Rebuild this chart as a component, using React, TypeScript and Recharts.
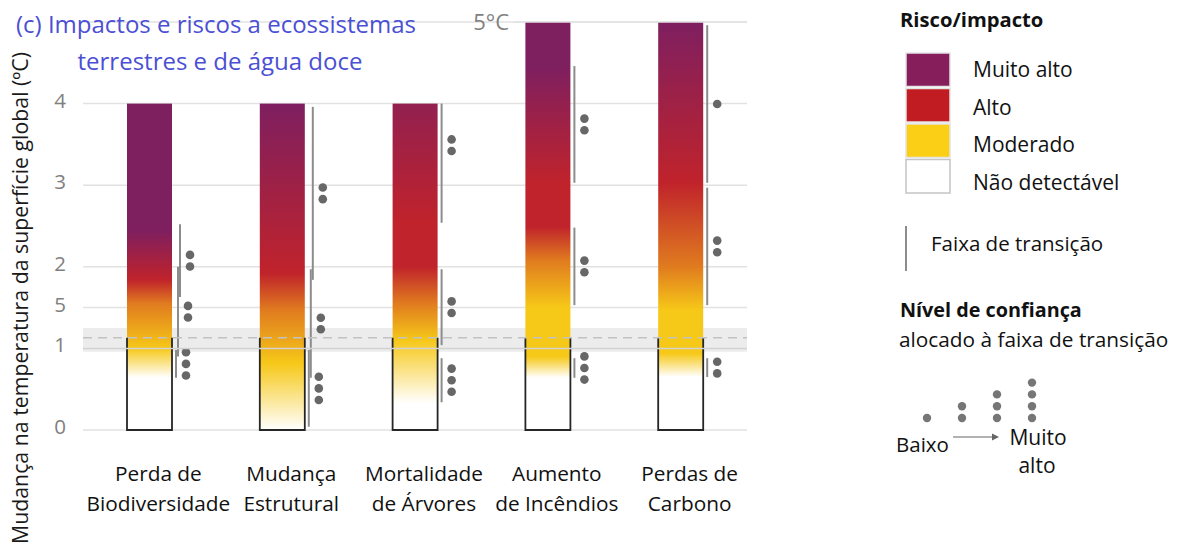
import React from 'react';
import {
  ComposedChart, Bar, XAxis, YAxis, CartesianGrid,
  ReferenceArea, ReferenceLine, Legend,
} from 'recharts';

const FONT = '"Open Sans", "Noto Sans", sans-serif';

const categories = [
  'Perda de Biodiversidade',
  'Mudança Estrutural',
  'Mortalidade de Árvores',
  'Aumento de Incêndios',
  'Perdas de Carbono',
];
const categoryLines = [
  ['Perda de', 'Biodiversidade'],
  ['Mudança', 'Estrutural'],
  ['Mortalidade', 'de Árvores'],
  ['Aumento', 'de Incêndios'],
  ['Perdas de', 'Carbono'],
];
// warming (ºC) at the top of each ember
const emberTops = [4, 4, 4, 5, 5];

// [warming ºC, risk level]  0 = não detectável, 1 = moderado, 2 = alto, 3 = muito alto
const emberBiodiversity = [[0.64, 0], [1.0, 1], [1.55, 1.5], [1.84, 2], [2.45, 3]];
const emberStructural = [[0.0, 0], [0.82, 1], [1.47, 1.5], [1.92, 2], [4.0, 3]];
const emberTreeMortality = [[0.33, 0], [1.1, 1], [1.55, 1.5], [2.0, 2], [2.54, 2], [4.0, 2.7]];
const emberFire = [[0.64, 0], [0.9, 1], [1.5, 1], [2.08, 1.5], [2.49, 2], [3.03, 2], [4.45, 3]];
const emberCarbon = [[0.65, 0], [0.94, 1], [1.47, 1], [2.0, 1.5], [3.03, 2], [5.0, 3]];
const embers = [emberBiodiversity, emberStructural, emberTreeMortality, emberFire, emberCarbon];

// transition ranges (ºC) with confidence (number of dots); at = dot centre when not the midpoint
type Transition = { from: number; to: number; confidence: number; at?: number };
const transBiodiversity: Transition[] = [
  { from: 0.64, to: 0.98, confidence: 3 },
  { from: 0.90, to: 2.00, confidence: 2 },
  { from: 1.63, to: 2.52, confidence: 2 },
];
const transStructural: Transition[] = [
  { from: 0.04, to: 0.98, confidence: 3 },
  { from: 0.64, to: 1.97, confidence: 2 },
  { from: 1.84, to: 3.96, confidence: 2 },
];
const transTreeMortality: Transition[] = [
  { from: 0.34, to: 0.88, confidence: 3 },
  { from: 1.04, to: 1.97, confidence: 2 },
  { from: 2.54, to: 4.00, confidence: 2, at: 3.49 },
];
const transFire: Transition[] = [
  { from: 0.64, to: 0.88, confidence: 3 },
  { from: 1.53, to: 2.48, confidence: 2 },
  { from: 3.03, to: 4.46, confidence: 2 },
];
const transCarbon: Transition[] = [
  { from: 0.65, to: 0.88, confidence: 2 },
  { from: 1.53, to: 2.97, confidence: 2 },
  { from: 3.03, to: 4.96, confidence: 1 },
];
const transitions = [transBiodiversity, transStructural, transTreeMortality, transFire, transCarbon];

const yTicks = [0, 1, 1.5, 2, 3, 4];
const yTickLabels = ['0', '1', '5', '2', '3', '4'];

// recent warming level and its band
const observedWarming = 1.13;
const observedLow = 0.96;
const observedHigh = 1.25;

const riskNames = ['Muito alto', 'Alto', 'Moderado', 'Não detectável'];
const riskSwatches = ['#861e5c', '#c11c21', '#fccf17', '#ffffff'];
const confidenceSteps = [1, 2, 3, 4];

const data = categories.map((name, i) => ({ name, top: emberTops[i] }));

const levelAnchors: [number, string][] = [
  [0, '#ffffff'], [1, '#f6c818'], [1.5, '#e07b1f'], [2, '#c0232b'], [3, '#7e1f60'],
];

function hexToRgb(h: string) {
  return [1, 3, 5].map((k) => parseInt(h.slice(k, k + 2), 16));
}

function levelColor(level: number) {
  for (let i = 1; i < levelAnchors.length; i++) {
    const [l0, c0] = levelAnchors[i - 1];
    const [l1, c1] = levelAnchors[i];
    if (level <= l1) {
      const f = (level - l0) / (l1 - l0);
      const a = hexToRgb(c0), b = hexToRgb(c1);
      const rgb = a.map((v, k) => Math.round(v + (b[k] - v) * f));
      return `rgb(${rgb.join(',')})`;
    }
  }
  return levelAnchors[levelAnchors.length - 1][1];
}

function Ember(props: any) {
  const { x, y, width, height, index } = props;
  const top = emberTops[index];
  const base = y + height;
  const py = (t: number) => base - (t * height) / top;
  const right = x + width;
  const id = `ember-grad-${index}`;
  const ranges = transitions[index];

  // overlapping ranges are stepped to the right
  let step = 0;
  const lines = ranges.map((r, k) => {
    if (k > 0 && r.from < ranges[k - 1].to) step += 1;
    return { ...r, lx: right + 4 + step * 2 };
  });

  return (
    <g>
      <defs>
        <linearGradient id={id} x1="0" y1="1" x2="0" y2="0">
          {embers[index].map(([t, lvl], k) => (
            <stop key={k} offset={t / top} stopColor={levelColor(lvl)} />
          ))}
        </linearGradient>
      </defs>
      <rect x={x} y={y} width={width} height={height} fill={`url(#${id})`} />
      <polyline
        points={`${x},${py(observedWarming)} ${x},${base} ${right},${base} ${right},${py(observedWarming)}`}
        fill="none" stroke="#262626" strokeWidth={1.8}
      />
      {lines.map((l, k) => {
        const mid = py(l.at ?? (l.from + l.to) / 2);
        const gap = 11.6;
        return (
          <g key={k}>
            <line x1={l.lx} x2={l.lx} y1={py(l.from)} y2={py(l.to)} stroke="#8c8c8c" strokeWidth={2} />
            {Array.from({ length: l.confidence }).map((_, d) => (
              <circle key={d} cx={l.lx + 10}
                cy={mid + (d - (l.confidence - 1) / 2) * gap} r={4.3} fill="#676767" />
            ))}
          </g>
        );
      })}
    </g>
  );
}

function TempTick(props: any) {
  const { x, y, index } = props;
  return (
    <text x={x} y={y + 4} textAnchor="end" fontSize={20.5} fill="#808080" fontFamily={FONT}>
      {yTickLabels[index]}
    </text>
  );
}

function CategoryTick(props: any) {
  const { x, y, index } = props;
  const [a, b] = categoryLines[index];
  return (
    <text x={x + 9} y={y} textAnchor="middle" fontSize={20.8} fill="#111" fontFamily={FONT}>
      <tspan x={x + 9} dy={43}>{a}</tspan>
      <tspan x={x + 9} dy={30}>{b}</tspan>
    </text>
  );
}

function TopLine(p: any) {
  const { x2, y1 } = p;
  const start = x2 - 233;
  return (
    <g>
      <line x1={start} x2={x2} y1={y1} y2={y1} stroke="#e2e2e2" strokeWidth={1.5} />
      <text x={start - 5} y={y1 + 8} textAnchor="end" fontSize={22} fill="#808080" fontFamily={FONT}>5°C</text>
    </g>
  );
}

function AxisTitle(p: any) {
  const vb = p.viewBox;
  const cx = vb.x + 28;
  const cy = 298;
  return (
    <text x={cx} y={cy} transform={`rotate(-90, ${cx}, ${cy})`} textAnchor="middle"
      fontSize={21.3} fill="#1a1a1a" fontFamily={FONT}>
      Mudança na temperatura da superfície global (ºC)
    </text>
  );
}

function RiskLegend() {
  const ox = 880;
  return (
    <svg width={304} height={549} style={{ display: 'block', fontFamily: FONT }}>
      <text x={900 - ox} y={27} fontSize={20.2} fontWeight={700} fill="#111">Risco/impacto</text>
      {riskNames.map((n, i) => (
        <g key={n}>
          <rect x={906 - ox} y={53 + i * 35.5} width={44} height={33.5} fill={riskSwatches[i]}
            stroke={i === 3 ? '#c4c4c4' : '#e4e4e4'} strokeWidth={1.5} />
          <text x={973 - ox} y={77 + i * 37.5} fontSize={21} fill="#111">{n}</text>
        </g>
      ))}
      <line x1={906 - ox} x2={906 - ox} y1={226} y2={271} stroke="#8c8c8c" strokeWidth={2} />
      <text x={931 - ox} y={251} fontSize={20.5} fill="#111">Faixa de transição</text>
      <text x={900 - ox} y={317} fontSize={19.8} fontWeight={700} fill="#111">Nível de confiança</text>
      <text x={899 - ox} y={347} fontSize={20.8} fill="#111">alocado à faixa de transição</text>
      {confidenceSteps.map((n, c) => (
        <g key={n}>
          {Array.from({ length: n }).map((_, d) => (
            <circle key={d} cx={927 - ox + c * 35} cy={418 - d * 11.8} r={4.2} fill="#767676" />
          ))}
        </g>
      ))}
      <text x={896 - ox} y={452} fontSize={20.5} fill="#111">Baixo</text>
      <line x1={953 - ox} x2={993 - ox} y1={437} y2={437} stroke="#666" strokeWidth={1.2} />
      <polygon points={`${999 - ox},437 ${992 - ox},433.5 ${992 - ox},440.5`} fill="#666" />
      <text x={1038 - ox} y={445} textAnchor="middle" fontSize={21} fill="#111">Muito</text>
      <text x={1037 - ox} y={473} textAnchor="middle" fontSize={21} fill="#111">alto</text>
    </svg>
  );
}

export default function App() {
  return (
    <div style={{ position: 'absolute', left: 0, top: 0, width: 1184, height: 549, fontFamily: FONT }}>
      <ComposedChart width={1184} height={549} data={data}
        margin={{ top: 22, right: 437, bottom: 0, left: 0 }}>
        <CartesianGrid vertical={false} stroke="#e2e2e2" strokeWidth={1.5} />
        <ReferenceArea y1={observedLow} y2={observedHigh} fill="#ececec" fillOpacity={1} stroke="none" />
        <ReferenceLine y={1} stroke="#d2d2d2" strokeWidth={1.5} />
        <ReferenceLine y={observedWarming} stroke="#c2c2c2" strokeWidth={1.5} strokeDasharray="9 6" />
        <ReferenceLine y={5} shape={TopLine} />
        <XAxis dataKey="name" height={119} axisLine={false} tickLine={false} interval={0}
          tick={<CategoryTick />} />
        <YAxis type="number" domain={[0, 5]} ticks={yTicks} width={83} axisLine={false}
          tickLine={false} tickMargin={11} tick={<TempTick />} label={{ content: AxisTitle }} />
        <Bar dataKey="top" barSize={45} shape={(p: any) => <Ember {...p} />} isAnimationActive={false} />
        <Legend layout="vertical" align="center" verticalAlign="middle" content={() => <RiskLegend />}
          wrapperStyle={{ left: 880, top: 0, width: 304, height: 549 }} />
      </ComposedChart>
      <svg width={460} height={90} style={{ position: 'absolute', left: 0, top: 0, pointerEvents: 'none' }}>
        <text x={216} y={33} textAnchor="middle" fontSize={24} fill="#4b4fd4" fontFamily={FONT}>
          (c) Impactos e riscos a ecossistemas
        </text>
        <text x={220} y={70} textAnchor="middle" fontSize={24} fill="#4b4fd4" fontFamily={FONT}>
          terrestres e de água doce
        </text>
      </svg>
    </div>
  );
}
